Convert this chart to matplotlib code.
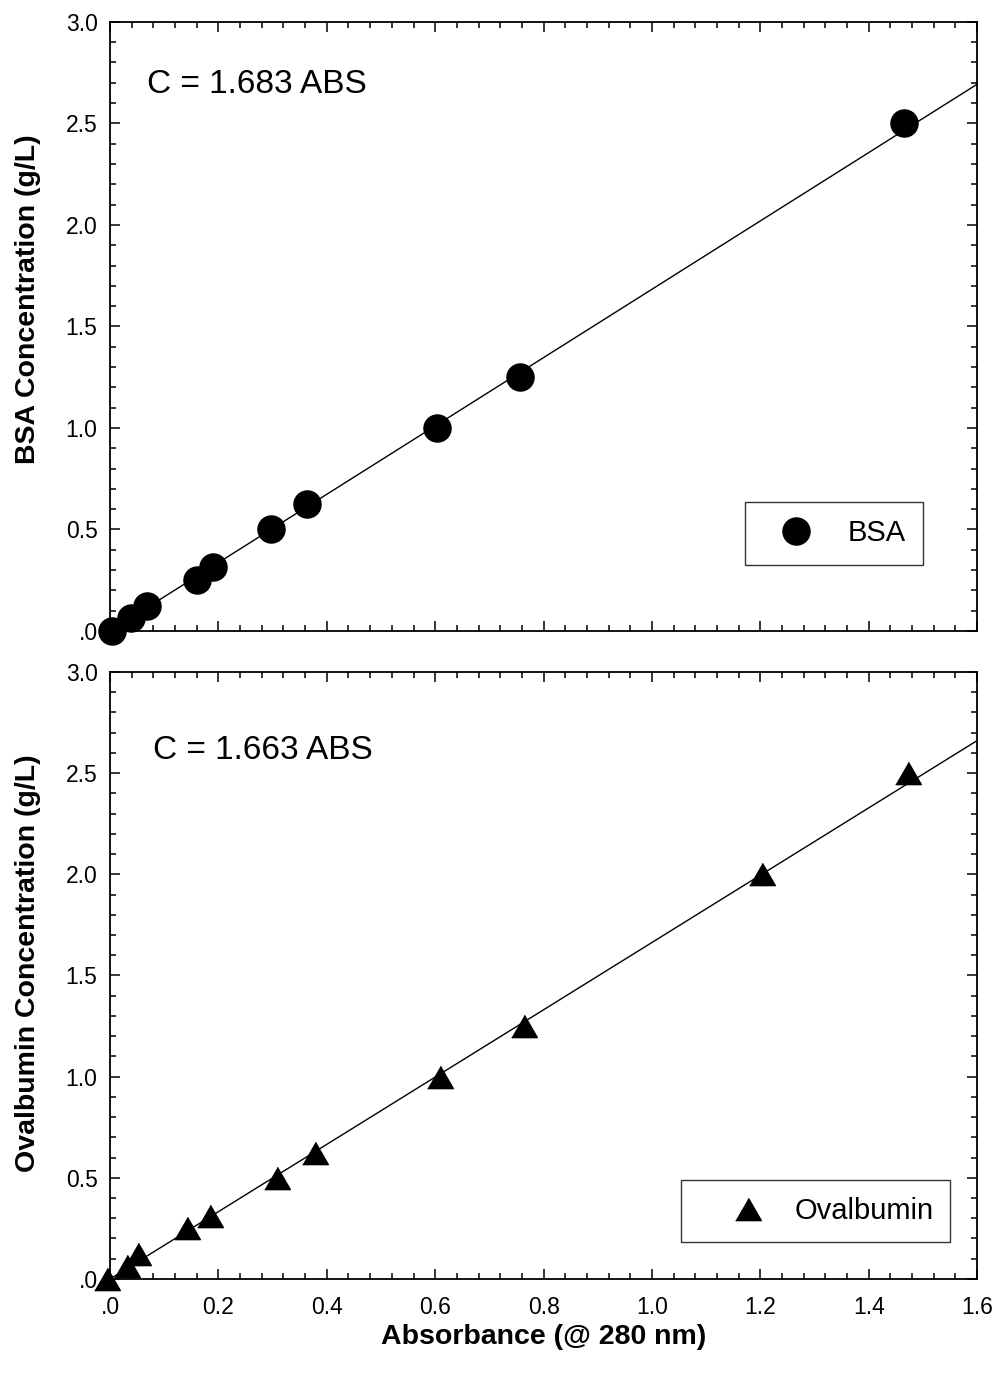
import matplotlib
matplotlib.use("Agg")
import matplotlib.pyplot as plt
from matplotlib.ticker import MultipleLocator, FuncFormatter

plt.rcParams['font.family'] = ['Liberation Sans', 'DejaVu Sans']

# BSA standard curve
bsa_abs = [0.003, 0.039, 0.068, 0.160, 0.190, 0.297, 0.364, 0.603, 0.756, 1.465]
bsa_conc = [0.0, 0.0625, 0.125, 0.25, 0.3125, 0.5, 0.625, 1.0, 1.25, 2.5]
bsa_slope = 1.683

# Ovalbumin standard curve
ova_abs = [-0.005, 0.031, 0.051, 0.142, 0.185, 0.309, 0.378, 0.608, 0.764, 1.203, 1.473]
ova_conc = [0.0, 0.0625, 0.125, 0.25, 0.3125, 0.5, 0.625, 1.0, 1.25, 2.0, 2.5]
ova_slope = 1.663

fit_x = [0.0, 1.6]


def fmt(v, pos):
    if abs(v) < 1e-9:
        return '.0'
    return '%.1f' % v


def style_axes(ax, show_x):
    ax.set_xlim(0, 1.6)
    ax.set_ylim(0, 3.0)
    ax.xaxis.set_major_locator(MultipleLocator(0.2))
    ax.xaxis.set_minor_locator(MultipleLocator(0.04))
    ax.yaxis.set_major_locator(MultipleLocator(0.5))
    ax.yaxis.set_minor_locator(MultipleLocator(0.1))
    ax.tick_params(which='both', direction='in', top=True, right=True, width=1.1, color='black')
    ax.tick_params(which='major', length=7, labelsize=16.5, pad=9)
    ax.tick_params(axis='x', which='major', pad=12)
    ax.tick_params(which='minor', length=4)
    ax.xaxis.set_major_formatter(FuncFormatter(fmt))
    ax.yaxis.set_major_formatter(FuncFormatter(fmt))
    if not show_x:
        ax.tick_params(axis='x', labelbottom=False)
    for s in ax.spines.values():
        s.set_linewidth(1.3)


fig = plt.figure(figsize=(9.95, 13.77), dpi=100)
ax1 = fig.add_axes([0.1106, 0.5418, 0.8714, 0.4423])
ax2 = fig.add_axes([0.1106, 0.0712, 0.8714, 0.4408])

# top panel
ax1.plot(fit_x, [bsa_slope * x for x in fit_x], color='black', lw=1.0, zorder=2)
ax1.plot(bsa_abs, bsa_conc, 'o', color='black', ms=19.5, clip_on=False, zorder=3, label='BSA')
ax1.text(0.043, 0.898, 'C = 1.683 ABS', transform=ax1.transAxes, fontsize=24,
         ha='left', va='center')
ax1.set_ylabel('BSA Concentration (g/L)', fontsize=20.5, fontweight='bold')
ax1.yaxis.set_label_coords(-0.08, 0.545)
leg1 = ax1.legend(loc='center', bbox_to_anchor=(0.835, 0.160), fontsize=21, frameon=True,
                  fancybox=False, edgecolor='#333333', framealpha=1, numpoints=1,
                  borderpad=0.6, handlelength=2.3, handletextpad=0.6)
leg1.get_frame().set_linewidth(1.0)
style_axes(ax1, False)

# bottom panel
tri = [(-1, -0.866), (1, -0.866), (0, 0.866)]
ax2.plot(fit_x, [ova_slope * x for x in fit_x], color='black', lw=1.0, zorder=2)
ax2.plot(ova_abs, ova_conc, linestyle='none', marker=tri, color='black', ms=18.5,
         clip_on=False, zorder=3, label='Ovalbumin')
ax2.text(0.0496, 0.870, 'C = 1.663 ABS', transform=ax2.transAxes, fontsize=24,
         ha='left', va='center')
ax2.set_ylabel('Ovalbumin Concentration (g/L)', fontsize=20.5, fontweight='bold')
ax2.yaxis.set_label_coords(-0.08, 0.521)
ax2.set_xlabel('Absorbance (@ 280 nm)', fontsize=20.5, fontweight='bold', labelpad=4)
leg2 = ax2.legend(loc='center', bbox_to_anchor=(0.814, 0.112), fontsize=21, frameon=True,
                  fancybox=False, edgecolor='#333333', framealpha=1, numpoints=1,
                  borderpad=0.58, handlelength=3.4, handletextpad=-0.1)
leg2.get_frame().set_linewidth(1.0)
style_axes(ax2, True)

fig.savefig('out.png', dpi=100)
